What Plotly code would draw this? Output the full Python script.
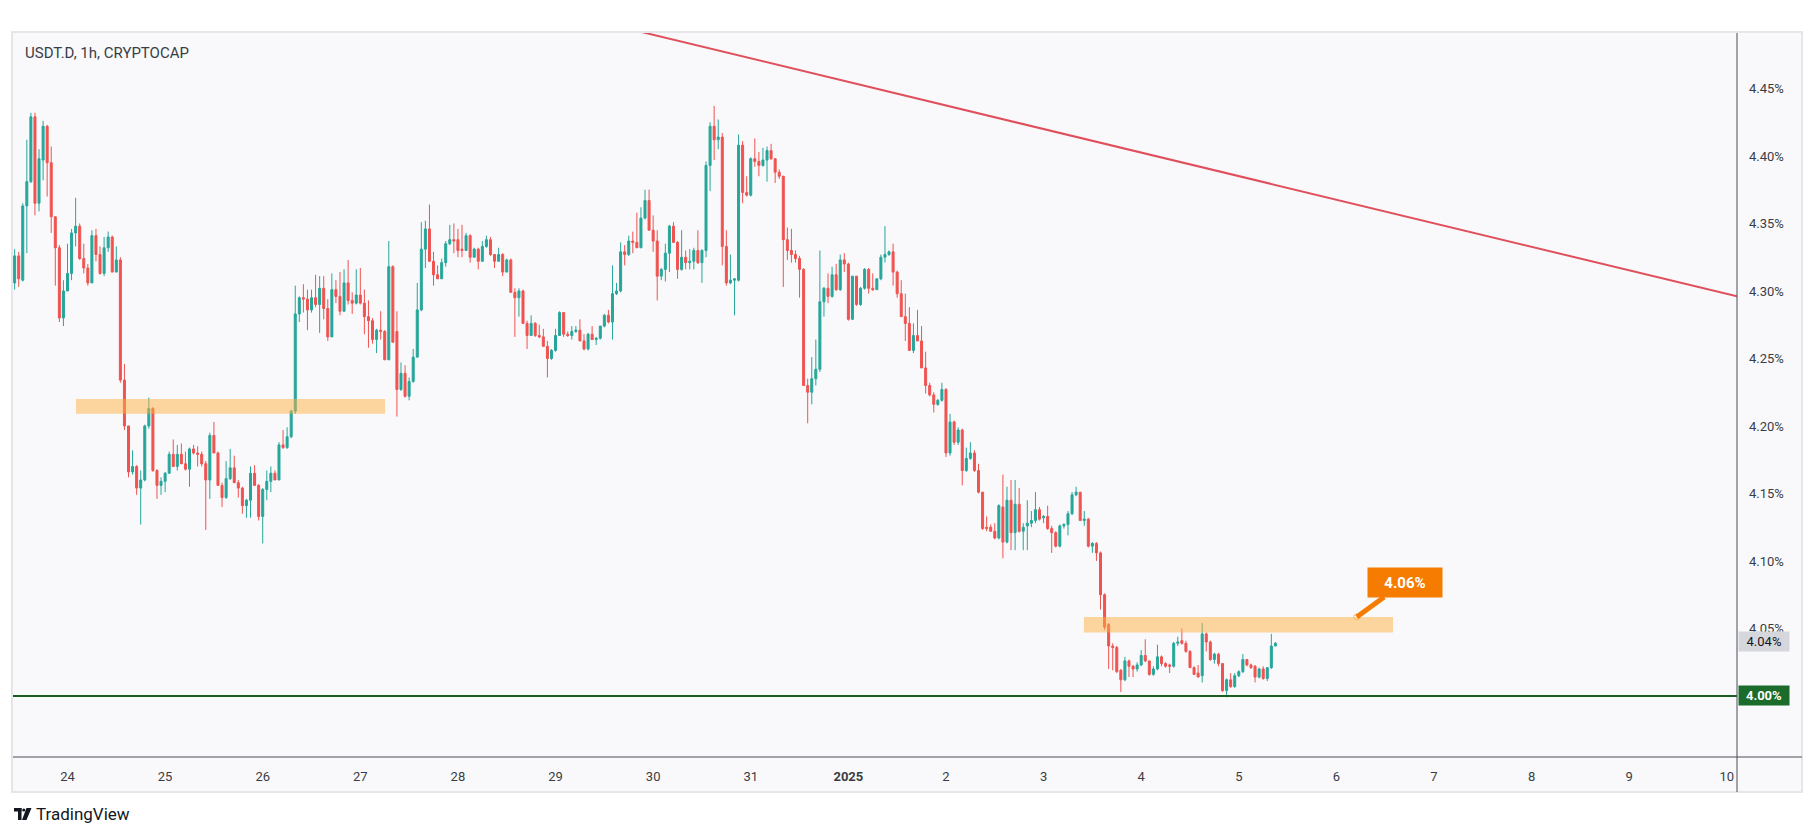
import plotly.graph_objects as go
import pandas as pd

# ---------------- data ----------------
candle_start = "2024-12-23 11:00"

opens = [4.306,4.326,4.308,4.363,4.381,4.429,4.365,4.397,4.422,4.395,4.355,4.332,4.280,4.300,4.313,4.343,4.348,4.324,4.317,4.306,
4.341,4.327,4.313,4.332,4.340,4.314,4.323,4.234,4.200,4.166,4.170,4.154,4.160,4.200,4.213,4.167,4.156,4.159,4.165,4.179,
4.170,4.179,4.172,4.168,4.183,4.180,4.179,4.172,4.160,4.193,4.180,4.156,4.147,4.161,4.169,4.158,4.154,4.141,4.145,4.165,
4.156,4.133,4.153,4.159,4.165,4.160,4.186,4.184,4.192,4.211,4.283,4.295,4.294,4.286,4.295,4.290,4.302,4.287,4.266,4.301,
4.296,4.285,4.306,4.293,4.291,4.297,4.291,4.281,4.278,4.264,4.271,4.270,4.249,4.318,4.270,4.227,4.239,4.222,4.233,4.251,
4.286,4.331,4.346,4.322,4.312,4.309,4.321,4.335,4.338,4.338,4.331,4.330,4.341,4.325,4.331,4.322,4.333,4.338,4.327,4.322,
4.327,4.314,4.323,4.299,4.295,4.300,4.276,4.267,4.276,4.267,4.266,4.259,4.250,4.256,4.267,4.284,4.268,4.267,4.270,4.271,
4.263,4.257,4.268,4.264,4.265,4.274,4.282,4.277,4.298,4.300,4.329,4.327,4.337,4.336,4.332,4.354,4.367,4.345,4.337,4.311,
4.316,4.328,4.348,4.336,4.316,4.325,4.321,4.322,4.330,4.321,4.330,4.393,4.422,4.412,4.414,4.333,4.306,4.308,4.308,4.408,
4.373,4.371,4.398,4.396,4.393,4.397,4.404,4.398,4.388,4.385,4.338,4.330,4.327,4.324,4.316,4.230,4.225,4.235,4.242,4.292,
4.302,4.296,4.312,4.301,4.323,4.320,4.279,4.311,4.290,4.302,4.316,4.302,4.301,4.309,4.325,4.327,4.329,4.314,4.298,4.281,
4.276,4.256,4.267,4.263,4.243,4.230,4.223,4.216,4.219,4.227,4.180,4.203,4.188,4.197,4.167,4.176,4.180,4.167,4.151,4.125,
4.125,4.122,4.117,4.140,4.114,4.145,4.121,4.142,4.122,4.126,4.128,4.130,4.138,4.132,4.133,4.124,4.121,4.111,4.126,4.127,
4.135,4.149,4.151,4.130,4.131,4.111,4.113,4.106,4.075,4.053,4.037,4.036,4.019,4.012,4.026,4.022,4.020,4.023,4.030,4.026,
4.016,4.020,4.029,4.024,4.023,4.022,4.039,4.041,4.039,4.033,4.021,4.017,4.015,4.046,4.040,4.027,4.031,4.024,4.004,4.012,
4.007,4.015,4.018,4.027,4.023,4.022,4.014,4.020,4.013,4.021,4.037]

highs = [4.331,4.329,4.365,4.412,4.432,4.432,4.405,4.426,4.423,4.407,4.355,4.334,4.308,4.335,4.346,4.369,4.350,4.335,4.320,4.345,
4.346,4.333,4.340,4.344,4.341,4.333,4.325,4.246,4.200,4.182,4.171,4.167,4.201,4.221,4.214,4.168,4.162,4.166,4.181,4.190,
4.186,4.187,4.181,4.184,4.186,4.185,4.181,4.174,4.195,4.203,4.181,4.158,4.174,4.183,4.178,4.160,4.155,4.146,4.170,4.171,
4.157,4.154,4.167,4.170,4.167,4.188,4.197,4.199,4.212,4.304,4.296,4.305,4.301,4.301,4.312,4.311,4.311,4.294,4.313,4.308,
4.314,4.316,4.323,4.299,4.316,4.317,4.301,4.293,4.280,4.272,4.285,4.271,4.337,4.319,4.285,4.247,4.245,4.236,4.257,4.306,
4.351,4.352,4.364,4.329,4.319,4.324,4.337,4.349,4.350,4.346,4.349,4.343,4.342,4.332,4.332,4.337,4.341,4.340,4.327,4.332,
4.328,4.324,4.324,4.302,4.302,4.301,4.278,4.282,4.277,4.275,4.272,4.263,4.257,4.272,4.285,4.284,4.270,4.274,4.274,4.279,
4.268,4.269,4.274,4.266,4.274,4.283,4.286,4.319,4.306,4.336,4.334,4.341,4.344,4.358,4.362,4.375,4.375,4.356,4.345,4.317,
4.335,4.349,4.351,4.337,4.345,4.330,4.331,4.332,4.345,4.331,4.396,4.425,4.437,4.427,4.417,4.345,4.327,4.309,4.416,4.411,
4.385,4.399,4.413,4.403,4.406,4.407,4.409,4.398,4.390,4.385,4.347,4.346,4.330,4.326,4.317,4.235,4.251,4.264,4.330,4.303,
4.313,4.318,4.320,4.327,4.328,4.321,4.311,4.311,4.303,4.317,4.317,4.313,4.309,4.327,4.348,4.330,4.335,4.315,4.308,4.298,
4.288,4.276,4.286,4.274,4.255,4.232,4.225,4.220,4.232,4.228,4.209,4.204,4.199,4.198,4.184,4.188,4.182,4.172,4.151,4.133,
4.127,4.128,4.142,4.164,4.155,4.160,4.160,4.154,4.128,4.145,4.137,4.151,4.140,4.134,4.141,4.126,4.122,4.127,4.128,4.137,
4.151,4.155,4.151,4.137,4.132,4.114,4.114,4.107,4.076,4.054,4.039,4.037,4.020,4.029,4.027,4.023,4.025,4.034,4.042,4.026,
4.022,4.038,4.030,4.025,4.024,4.040,4.044,4.050,4.041,4.034,4.022,4.023,4.054,4.047,4.041,4.032,4.032,4.024,4.013,4.017,
4.017,4.019,4.031,4.027,4.024,4.023,4.021,4.022,4.021,4.046,4.040]

lows = [4.301,4.303,4.307,4.328,4.380,4.356,4.359,4.382,4.370,4.343,4.304,4.277,4.274,4.300,4.308,4.333,4.323,4.313,4.304,4.306,
4.322,4.312,4.311,4.329,4.314,4.314,4.232,4.197,4.162,4.164,4.149,4.127,4.159,4.198,4.166,4.146,4.149,4.151,4.165,4.170,
4.167,4.172,4.167,4.155,4.179,4.170,4.170,4.123,4.146,4.180,4.156,4.140,4.146,4.160,4.158,4.147,4.135,4.132,4.132,4.156,
4.130,4.113,4.145,4.151,4.160,4.160,4.183,4.183,4.191,4.209,4.277,4.284,4.271,4.284,4.288,4.269,4.279,4.263,4.266,4.291,
4.282,4.285,4.290,4.283,4.290,4.290,4.268,4.258,4.261,4.254,4.264,4.249,4.249,4.262,4.207,4.226,4.221,4.219,4.232,4.251,
4.285,4.317,4.322,4.304,4.309,4.309,4.318,4.334,4.328,4.325,4.325,4.330,4.321,4.325,4.316,4.322,4.332,4.326,4.317,4.322,
4.311,4.314,4.299,4.266,4.281,4.276,4.257,4.267,4.266,4.265,4.259,4.236,4.249,4.255,4.267,4.266,4.266,4.264,4.269,4.263,
4.256,4.256,4.264,4.260,4.264,4.273,4.276,4.264,4.297,4.299,4.319,4.326,4.328,4.332,4.332,4.353,4.345,4.329,4.293,4.308,
4.307,4.314,4.336,4.309,4.315,4.316,4.316,4.316,4.320,4.306,4.325,4.374,4.397,4.405,4.319,4.304,4.305,4.282,4.307,4.365,
4.370,4.370,4.392,4.385,4.392,4.381,4.397,4.380,4.383,4.303,4.323,4.321,4.321,4.295,4.230,4.202,4.216,4.230,4.240,4.281,
4.291,4.295,4.300,4.300,4.314,4.278,4.279,4.289,4.289,4.301,4.298,4.300,4.301,4.308,4.321,4.326,4.304,4.295,4.281,4.263,
4.256,4.254,4.263,4.243,4.224,4.222,4.210,4.215,4.218,4.177,4.178,4.186,4.186,4.156,4.166,4.175,4.166,4.150,4.123,4.122,
4.122,4.116,4.116,4.102,4.113,4.108,4.108,4.121,4.108,4.108,4.125,4.128,4.130,4.128,4.123,4.106,4.110,4.110,4.124,4.119,
4.134,4.148,4.130,4.126,4.110,4.106,4.100,4.064,4.049,4.020,4.019,4.017,4.003,4.011,4.014,4.014,4.018,4.022,4.025,4.015,
4.015,4.019,4.022,4.021,4.017,4.021,4.037,4.038,4.032,4.021,4.016,4.014,4.010,4.033,4.026,4.024,4.022,4.003,3.999,4.006,
4.006,4.014,4.017,4.022,4.020,4.010,4.013,4.012,4.011,4.020,4.037]

closes = [4.326,4.309,4.363,4.381,4.429,4.365,4.398,4.422,4.395,4.355,4.332,4.280,4.300,4.313,4.343,4.348,4.324,4.317,4.306,4.341,
4.327,4.313,4.332,4.340,4.314,4.323,4.234,4.200,4.166,4.170,4.154,4.160,4.200,4.213,4.167,4.156,4.159,4.165,4.179,4.170,
4.179,4.172,4.168,4.183,4.180,4.179,4.172,4.160,4.193,4.180,4.156,4.147,4.161,4.169,4.158,4.154,4.141,4.145,4.165,4.156,
4.133,4.153,4.159,4.165,4.160,4.186,4.184,4.192,4.211,4.283,4.295,4.294,4.286,4.295,4.290,4.302,4.287,4.266,4.301,4.296,
4.285,4.306,4.293,4.291,4.297,4.291,4.281,4.278,4.264,4.271,4.270,4.249,4.318,4.262,4.227,4.239,4.222,4.233,4.251,4.286,
4.331,4.346,4.322,4.312,4.309,4.321,4.335,4.338,4.337,4.330,4.330,4.341,4.325,4.331,4.322,4.333,4.338,4.327,4.322,4.327,
4.314,4.323,4.299,4.295,4.300,4.276,4.267,4.276,4.267,4.266,4.259,4.250,4.256,4.267,4.284,4.268,4.267,4.270,4.271,4.263,
4.257,4.268,4.264,4.265,4.274,4.282,4.277,4.298,4.300,4.329,4.327,4.337,4.336,4.332,4.354,4.367,4.345,4.337,4.311,4.316,
4.328,4.348,4.336,4.316,4.325,4.321,4.322,4.330,4.321,4.330,4.393,4.422,4.412,4.414,4.333,4.306,4.308,4.309,4.408,4.373,
4.371,4.398,4.396,4.393,4.397,4.404,4.398,4.388,4.385,4.338,4.330,4.327,4.324,4.316,4.230,4.225,4.235,4.242,4.292,4.302,
4.296,4.312,4.301,4.323,4.320,4.279,4.311,4.290,4.302,4.316,4.302,4.301,4.309,4.325,4.327,4.329,4.314,4.298,4.281,4.276,
4.256,4.267,4.263,4.243,4.230,4.223,4.216,4.219,4.227,4.180,4.203,4.188,4.197,4.167,4.176,4.180,4.167,4.151,4.124,4.124,
4.122,4.117,4.141,4.114,4.145,4.121,4.142,4.122,4.125,4.128,4.130,4.138,4.131,4.133,4.124,4.121,4.111,4.126,4.127,4.135,
4.149,4.151,4.130,4.131,4.111,4.113,4.106,4.075,4.051,4.037,4.036,4.018,4.012,4.026,4.022,4.020,4.023,4.030,4.026,4.016,
4.020,4.029,4.024,4.022,4.022,4.039,4.040,4.039,4.033,4.021,4.016,4.014,4.046,4.040,4.027,4.031,4.024,4.004,4.012,4.007,
4.015,4.018,4.027,4.023,4.021,4.014,4.020,4.013,4.021,4.037,4.039]

# trendline (two anchor points)
trend_times = ["2024-12-29 12:00", "2025-01-10 02:30"]
trend_values = [4.4985, 4.296]

# support level
support_level = 4.00
current_price = 4.04

# supply/demand zones: (start, end, low, high)
zone_starts = ["2024-12-24 02:05", "2025-01-03 09:55"]
zone_ends = ["2024-12-27 06:05", "2025-01-06 13:55"]
zone_lows = [4.209, 4.047]
zone_highs = [4.220, 4.0585]

# callout
callout_time = "2025-01-06 05:00"
callout_value = 4.0585
callout_text = "4.06%"

# axes
y_tick_values = [4.00, 4.05, 4.10, 4.15, 4.20, 4.25, 4.30, 4.35, 4.40, 4.45]
y_tick_labels = ["4.00%", "4.05%", "4.10%", "4.15%", "4.20%", "4.25%", "4.30%", "4.35%", "4.40%", "4.45%"]
x_tick_dates = ["2024-12-24", "2024-12-25", "2024-12-26", "2024-12-27", "2024-12-28", "2024-12-29",
                "2024-12-30", "2024-12-31", "2025-01-01", "2025-01-02", "2025-01-03", "2025-01-04",
                "2025-01-05", "2025-01-06", "2025-01-07", "2025-01-08", "2025-01-09", "2025-01-10"]
x_tick_labels = ["24", "25", "26", "27", "28", "29", "30", "31", "<b>2025</b>", "2", "3", "4",
                 "5", "6", "7", "8", "9", "10"]
x_range = ["2024-12-23 10:36", "2025-01-10 02:30"]
y_range = [3.9548, 4.4911]

title_text = "USDT.D, 1h, CRYPTOCAP"
brand_text = "TradingView"

# ---------------- figure ----------------
times = pd.date_range(candle_start, periods=len(closes), freq="h")

W, H = 1815, 836
ML, MR, MT, MB = 13, 78, 33, 79
PW, PH = W - ML - MR, H - MT - MB


def px(xp):
    return (xp - ML) / PW


def py(yp):
    return (H - MB - yp) / PH


UP = "#26a69a"
DOWN = "#ef5350"
FONT = "Roboto, Arial, sans-serif"

fig = go.Figure()

fig.add_trace(go.Candlestick(
    x=times, open=opens, high=highs, low=lows, close=closes,
    increasing=dict(line=dict(color=UP, width=1), fillcolor=UP),
    decreasing=dict(line=dict(color=DOWN, width=1), fillcolor=DOWN),
    whiskerwidth=0, showlegend=False, hoverinfo="skip",
))

fig.add_trace(go.Scatter(
    x=trend_times, y=trend_values, mode="lines",
    line=dict(color="#e0505c", width=2), showlegend=False, hoverinfo="skip",
))

shapes = []
# panel background + border
shapes.append(dict(type="rect", xref="paper", yref="paper",
                   x0=px(12), x1=px(1802), y0=py(792), y1=py(32),
                   fillcolor="#f9f9fb", line=dict(color="#e6e6ea", width=2), layer="below"))
# zones
for s, e, lo, hi in zip(zone_starts, zone_ends, zone_lows, zone_highs):
    shapes.append(dict(type="rect", xref="x", yref="y", x0=s, x1=e, y0=lo, y1=hi,
                       fillcolor="rgba(255,175,65,0.5)", line=dict(width=0), layer="above"))
# support line
shapes.append(dict(type="line", xref="paper", yref="y", x0=0, x1=1,
                   y0=support_level, y1=support_level,
                   line=dict(color="#1b5e20", width=2), layer="above"))
# axis lines
shapes.append(dict(type="line", xref="paper", yref="paper", x0=1, x1=1, y0=py(792), y1=1,
                   line=dict(color="#4a4d57", width=1)))
shapes.append(dict(type="line", xref="paper", yref="paper", x0=0, x1=px(1802), y0=0, y1=0,
                   line=dict(color="#4a4d57", width=1)))
# TradingView logo glyph
LOGO = "#131722"
shapes.append(dict(type="rect", xref="paper", yref="paper", x0=px(14), x1=px(21.5),
                   y0=py(811.5), y1=py(808), fillcolor=LOGO, line=dict(width=0)))
shapes.append(dict(type="rect", xref="paper", yref="paper", x0=px(18), x1=px(21.5),
                   y0=py(820), y1=py(808), fillcolor=LOGO, line=dict(width=0)))
shapes.append(dict(type="circle", xref="paper", yref="paper", x0=px(22.2), x1=px(25.4),
                   y0=py(811.6), y1=py(808.4), fillcolor=LOGO, line=dict(width=0)))
shapes.append(dict(type="path", xref="paper", yref="paper",
                   path=f"M {px(26.5)},{py(808)} L {px(31.5)},{py(808)} L {px(26.5)},{py(820)} L {px(22)},{py(820)} Z",
                   fillcolor=LOGO, line=dict(width=0)))

annotations = []
annotations.append(dict(xref="paper", yref="paper", x=px(23), y=py(53), xanchor="left", yanchor="middle",
                        text=title_text, showarrow=False, font=dict(family=FONT, size=15, color="#3a3d45")))
annotations.append(dict(xref="paper", yref="paper", x=px(34), y=py(814), xanchor="left", yanchor="middle",
                        text=brand_text, showarrow=False, font=dict(family=FONT, size=17, color="#131722")))
# price labels on axis
annotations.append(dict(xref="paper", yref="y", x=1, y=current_price, xanchor="left", yanchor="middle",
                        text=f"{current_price:.2f}%", showarrow=False, bgcolor="#d5d7dd",
                        width=46, height=15, borderpad=2, xshift=1,
                        font=dict(family=FONT, size=13, color="#131722")))
annotations.append(dict(xref="paper", yref="y", x=1, y=support_level, xanchor="left", yanchor="middle",
                        text=f"<b>{support_level:.2f}%</b>", showarrow=False, bgcolor="#1b6b2a",
                        width=46, height=15, borderpad=2, xshift=1,
                        font=dict(family=FONT, size=13, color="#ffffff")))
# callout
annotations.append(dict(xref="x", yref="y", x=callout_time, y=callout_value,
                        text=f"<b>{callout_text}</b>", showarrow=True, arrowhead=0,
                        arrowcolor="#f57c00", arrowwidth=5, ax=48, ay=-35, standoff=0,
                        bgcolor="#f57c00", width=66, height=21, borderpad=4,
                        font=dict(family=FONT, size=15, color="#ffffff")))

fig.add_trace(go.Scatter(
    x=[callout_time], y=[callout_value], mode="markers",
    marker=dict(color="#ffffff", size=6, line=dict(color="#f5b97a", width=1)),
    showlegend=False, hoverinfo="skip",
))

fig.update_layout(
    width=W, height=H,
    margin=dict(l=ML, r=MR, t=MT, b=MB, pad=0),
    paper_bgcolor="#ffffff", plot_bgcolor="#f9f9fb",
    shapes=shapes, annotations=annotations,
    showlegend=False,
    font=dict(family=FONT, color="#3a3d45"),
    xaxis=dict(range=x_range, type="date", rangeslider=dict(visible=False),
               tickvals=x_tick_dates, ticktext=x_tick_labels, showgrid=False, zeroline=False,
               showline=False, ticks="", tickfont=dict(family=FONT, size=13, color="#3a3d45"),
               ticklabelstandoff=10),
    yaxis=dict(range=y_range, side="right", tickvals=y_tick_values, ticktext=y_tick_labels,
               showgrid=False, zeroline=False, showline=False, ticks="",
               tickfont=dict(family=FONT, size=13, color="#3a3d45"), ticklabelstandoff=11),
)

fig.write_html("out.html")
